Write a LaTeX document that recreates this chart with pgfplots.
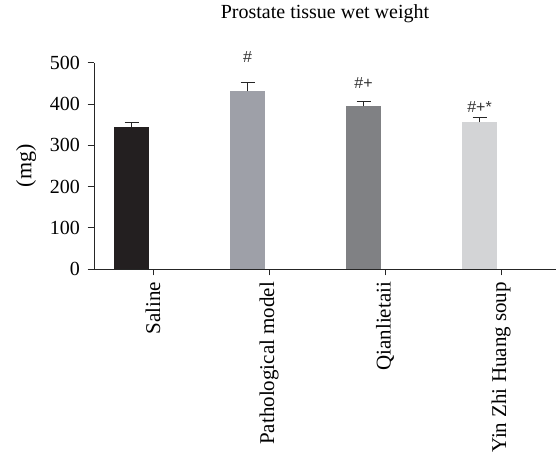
\documentclass[border=0pt]{standalone}
\usepackage{pgfplots}
\pgfplotsset{compat=1.18}
\usepackage{fontspec}
\setmainfont{Liberation Serif}
\newfontfamily\annfont{Liberation Sans}
\definecolor{cSal}{HTML}{231F20}
\definecolor{cPat}{HTML}{9EA0A8}
\definecolor{cQia}{HTML}{808184}
\definecolor{cYin}{HTML}{D3D4D6}
\begin{document}
\begin{tikzpicture}[x=1bp,y=1bp]
\useasboundingbox (0,0) rectangle (556,455);
\begin{axis}[
  at={(94bp,186bp)}, anchor=south west,
  scale only axis, width=462bp, height=206.3bp,
  xmin=-0.509, xmax=3.474, ymin=0, ymax=500,
  axis x line=bottom, axis y line=left,
  axis line style={-, line width=0.9pt, black!85},
  xtick={0,1,2,3},
  xticklabels={Saline, Pathological model, Qianlietaii, Yin Zhi Huang soup},
  x tick label style={rotate=90, anchor=east, font=\fontsize{21bp}{24bp}\selectfont, xshift=-3bp},
  ytick={0,100,...,500},
  y tick label style={font=\fontsize{20bp}{24bp}\selectfont, xshift=-4bp},
  /pgf/number format/assume math mode=true,
  tick align=outside, major tick length=6.5bp,
  tick style={line width=0.9pt, black!85},
  title={Prostate tissue wet weight},
  title style={font=\fontsize{20bp}{24bp}\selectfont, at={(axis description cs:0.5,1)}, anchor=base, yshift=38bp},
  ylabel={(mg)},
  ylabel style={font=\fontsize{22bp}{26bp}\selectfont, at={(axis description cs:0,0.5)}, anchor=center, yshift=68bp},
  ybar, bar width=0.305, bar shift=0pt,
  every axis plot/.append style={draw=none},
  error bars/y dir=plus, error bars/y explicit,
  error bars/error mark options={rotate=90, mark size=7bp, line width=0.9pt, black!85},
  error bars/error bar style={line width=0.9pt, black!85},
  clip=false,
]
\addplot[fill=cSal] coordinates {(-0.185,343) +- (0,12)};
\addplot[fill=cPat] coordinates {(0.815,431) +- (0,21)};
\addplot[fill=cQia] coordinates {(1.815,394) +- (0,12)};
\addplot[fill=cYin] coordinates {(2.815,356) +- (0,11)};
\node[font=\annfont\fontsize{16bp}{18bp}\selectfont, text=black!80] at (axis cs:0.815,514) {\#};
\node[font=\annfont\fontsize{16bp}{18bp}\selectfont, text=black!80] at (axis cs:1.815,450) {\#+};
\node[font=\annfont\fontsize{16bp}{18bp}\selectfont, text=black!80] at (axis cs:2.815,393) {\#+*};
\end{axis}
\end{tikzpicture}
\end{document}
